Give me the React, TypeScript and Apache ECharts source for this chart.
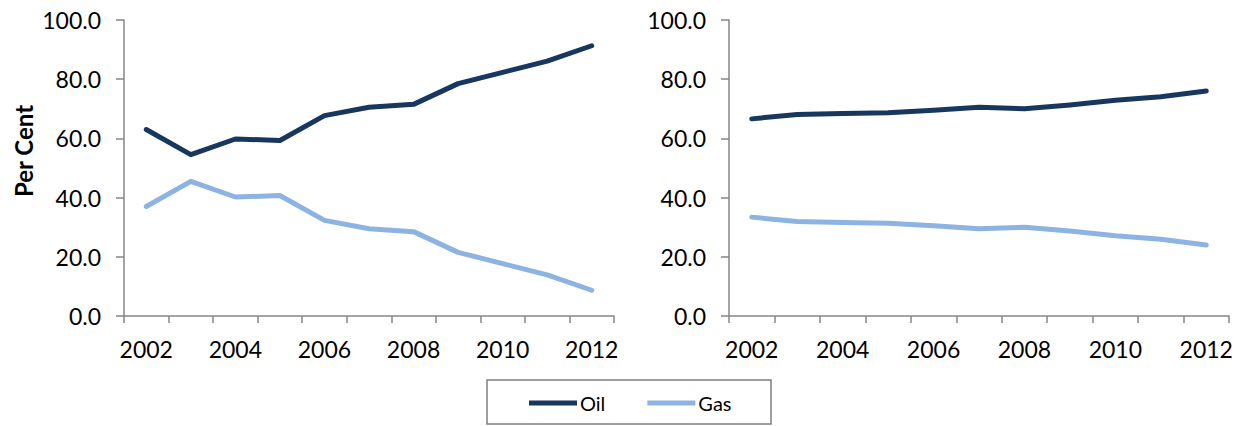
import React, { useEffect, useRef } from "react";
import * as echarts from "echarts";

const years = ["2002", "2003", "2004", "2005", "2006", "2007", "2008", "2009", "2010", "2011", "2012"];
const oilLeft = [63.0, 54.5, 59.8, 59.3, 67.7, 70.5, 71.5, 78.5, 82.3, 86.1, 91.3];
const gasLeft = [37.0, 45.5, 40.2, 40.7, 32.3, 29.5, 28.5, 21.5, 17.7, 13.9, 8.7];
const oilRight = [66.6, 68.1, 68.4, 68.7, 69.5, 70.5, 70.0, 71.3, 72.9, 74.1, 76.0];
const gasRight = [33.4, 31.9, 31.6, 31.3, 30.5, 29.5, 30.0, 28.7, 27.1, 25.9, 24.0];
const seriesNames = ["Oil", "Gas"];
const yAxisTitle = "Per Cent";

const OIL = "#17375E";
const GAS = "#8DB3E2";
const AXIS = "#868686";
const FONT = "Lato";

export default function App() {
  const ref = useRef<HTMLDivElement>(null);
  useEffect(() => {
    if (!ref.current) return;
    const chart = echarts.init(ref.current, undefined, { renderer: "svg" });
    const xAxisBase = (gridIndex: number) => ({
      type: "category" as const,
      gridIndex,
      data: years,
      boundaryGap: true,
      axisLine: { show: true, lineStyle: { color: AXIS, width: 1.5 } },
      axisTick: { show: true, interval: 0, length: 7, lineStyle: { color: AXIS, width: 1.5 } },
      axisLabel: { interval: 1, color: "#000", fontSize: 23, fontFamily: FONT, margin: 21 },
      splitLine: { show: false },
    });
    const yAxisBase = (gridIndex: number) => ({
      type: "value" as const,
      gridIndex,
      min: 0,
      max: 100,
      interval: 20,
      axisLine: { show: true, lineStyle: { color: AXIS, width: 1.5 } },
      axisTick: { show: true, length: 8, lineStyle: { color: AXIS, width: 1.5 } },
      axisLabel: {
        color: "#000",
        fontSize: 23,
        fontFamily: FONT,
        margin: 23,
        formatter: (v: number) => v.toFixed(1),
      },
      splitLine: { show: false },
    });
    const line = (name: string, data: number[], color: string, idx: number) => ({
      type: "line" as const,
      name,
      data,
      xAxisIndex: idx,
      yAxisIndex: idx,
      symbol: "none",
      lineStyle: { color, width: 5, cap: "round", join: "round" },
      itemStyle: { color },
    });
    chart.setOption({
      animation: false,
      backgroundColor: "#fff",
      grid: [
        { left: 124, top: 20, width: 490, height: 296 },
        { left: 729, top: 20, width: 500, height: 296 },
      ],
      xAxis: [xAxisBase(0), xAxisBase(1)],
      yAxis: [yAxisBase(0), yAxisBase(1)],
      legend: {
        data: seriesNames,
        left: 529,
        top: 393,
        padding: 0,
        itemGap: 42,
        itemWidth: 48,
        itemHeight: 5,
        icon: "rect",
        textStyle: { color: "#000", fontSize: 20, fontFamily: FONT, lineHeight: 20, padding: [0, 0, 0, -2] },
      },
      graphic: [
        {
          type: "rect",
          shape: { x: 487, y: 380, width: 284, height: 44 },
          style: { fill: "none", stroke: "#7f7f7f", lineWidth: 1.5 },
          silent: true,
        },
        {
          type: "text",
          x: 23,
          y: 151,
          rotation: Math.PI / 2,
          style: {
            text: yAxisTitle,
            fontSize: 24,
            fontWeight: "bold",
            fontFamily: FONT,
            fill: "#000",
            align: "center",
            verticalAlign: "middle",
          },
        },
      ],
      series: [
        line(seriesNames[0], oilLeft, OIL, 0),
        line(seriesNames[1], gasLeft, GAS, 0),
        line(seriesNames[0], oilRight, OIL, 1),
        line(seriesNames[1], gasRight, GAS, 1),
      ],
    });
    return () => chart.dispose();
  }, []);
  return (
    <div
      ref={ref}
      style={{ position: "absolute", left: 0, top: 0, width: 1241, height: 426 }}
    />
  );
}
